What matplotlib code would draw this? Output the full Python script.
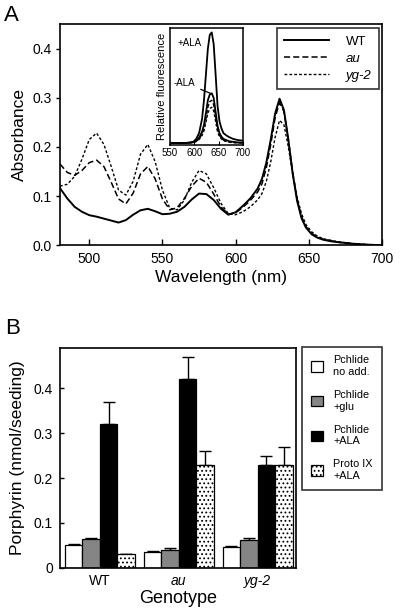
import matplotlib
matplotlib.use("Agg")
import matplotlib.pyplot as plt
from matplotlib.patches import Patch
from matplotlib.lines import Line2D

plt.rcParams["font.family"] = ["Liberation Sans", "DejaVu Sans"]
plt.rcParams["hatch.linewidth"] = 0.8

# ---- panel A: absorbance spectra ----
wavelength = [480, 485, 490, 495, 500, 505, 510, 515, 520, 525, 530, 535, 540, 545,
              550, 555, 560, 565, 570, 575, 580, 585, 590, 595, 600, 605, 610, 615,
              618, 621, 624, 627, 630, 633, 636, 639, 642, 645, 648, 652, 656, 660,
              665, 670, 680, 690, 700]
abs_wt = [0.116, 0.095, 0.078, 0.068, 0.061, 0.058, 0.054, 0.050, 0.046, 0.051, 0.062,
          0.071, 0.074, 0.069, 0.063, 0.064, 0.068, 0.078, 0.093, 0.105, 0.104, 0.092,
          0.074, 0.062, 0.067, 0.080, 0.095, 0.115, 0.135, 0.168, 0.215, 0.268, 0.298,
          0.275, 0.215, 0.145, 0.090, 0.055, 0.036, 0.022, 0.015, 0.011, 0.008, 0.006,
          0.003, 0.001, 0.000]
abs_au = [0.165, 0.148, 0.142, 0.152, 0.168, 0.173, 0.160, 0.128, 0.094, 0.084, 0.106,
          0.145, 0.160, 0.135, 0.094, 0.072, 0.076, 0.095, 0.120, 0.136, 0.128, 0.104,
          0.078, 0.063, 0.066, 0.077, 0.091, 0.108, 0.125, 0.158, 0.205, 0.260, 0.290,
          0.272, 0.215, 0.148, 0.094, 0.058, 0.038, 0.024, 0.016, 0.012, 0.009, 0.006,
          0.003, 0.001, 0.000]
abs_yg2 = [0.120, 0.124, 0.140, 0.175, 0.215, 0.228, 0.205, 0.160, 0.112, 0.102, 0.130,
           0.185, 0.205, 0.170, 0.112, 0.075, 0.072, 0.092, 0.128, 0.152, 0.145, 0.117,
           0.085, 0.064, 0.062, 0.068, 0.078, 0.092, 0.105, 0.130, 0.170, 0.220, 0.254,
           0.245, 0.200, 0.145, 0.098, 0.064, 0.042, 0.027, 0.018, 0.013, 0.010, 0.007,
           0.003, 0.001, 0.000]
a_yticks = [0.0, 0.1, 0.2, 0.3, 0.4]
a_yticklabels = ["0.0", "0.1", "0.2", "0.3", "0.4"]
a_xticks = [500, 550, 600, 650, 700]

# inset: fluorescence emission
fl_wavelength = [550, 560, 570, 580, 590, 598, 604, 610, 616, 620, 624, 628, 632, 636,
                 640, 644, 648, 652, 656, 660, 666, 672, 680, 690, 700]
fl_plus_ala = [0.015, 0.015, 0.015, 0.015, 0.018, 0.025, 0.05, 0.10, 0.22, 0.38, 0.60,
               0.82, 0.94, 0.96, 0.86, 0.60, 0.33, 0.20, 0.14, 0.10, 0.08, 0.065, 0.05,
               0.04, 0.035]
fl_minus_ala = [0.015, 0.015, 0.015, 0.015, 0.018, 0.022, 0.035, 0.06, 0.11, 0.17, 0.27,
                0.38, 0.43, 0.44, 0.40, 0.28, 0.16, 0.10, 0.07, 0.05, 0.04, 0.03, 0.025,
                0.02, 0.018]
fl_au = [0.015, 0.015, 0.015, 0.015, 0.017, 0.02, 0.03, 0.05, 0.09, 0.14, 0.22, 0.32,
         0.37, 0.38, 0.34, 0.24, 0.13, 0.08, 0.055, 0.04, 0.03, 0.025, 0.02, 0.018, 0.015]
fl_yg2 = [0.015, 0.015, 0.015, 0.015, 0.017, 0.02, 0.028, 0.045, 0.08, 0.12, 0.19, 0.27,
          0.31, 0.32, 0.29, 0.20, 0.11, 0.07, 0.05, 0.035, 0.028, 0.022, 0.018, 0.016,
          0.014]
fl_xticks = [550, 600, 650, 700]

# ---- panel B: porphyrin content ----
genotypes = ["WT", "au", "yg-2"]
treatments = ["Pchlide\nno add.", "Pchlide\n+glu", "Pchlide\n+ALA", "Proto IX\n+ALA"]
porphyrin = [
    [0.052, 0.036, 0.047],   # Pchlide no add.
    [0.064, 0.041, 0.062],   # Pchlide +glu
    [0.320, 0.420, 0.230],   # Pchlide +ALA
    [0.030, 0.230, 0.230],   # Proto IX +ALA
]
porphyrin_err = [
    [0.002, 0.002, 0.002],
    [0.003, 0.003, 0.005],
    [0.050, 0.050, 0.020],
    [0.000, 0.030, 0.040],
]
b_yticks = [0, 0.1, 0.2, 0.3, 0.4]
b_yticklabels = ["0", "0.1", "0.2", "0.3", "0.4"]

fig = plt.figure(figsize=(4.0, 6.16), dpi=100)

# ---------------- panel A ----------------
ax = fig.add_axes([0.15, 0.602, 0.805, 0.359])
ax.plot(wavelength, abs_wt, color="black", lw=1.4, ls="-", label="WT")
ax.plot(wavelength, abs_au, color="black", lw=1.1, ls=(0, (4, 2)), label="au")
ax.plot(wavelength, abs_yg2, color="black", lw=1.0, ls=(0, (2, 1.5)), label="yg-2")
ax.set_xlim(480, 700)
ax.set_ylim(0, 0.45)
ax.set_xticks(a_xticks)
ax.set_yticks(a_yticks)
ax.set_yticklabels(a_yticklabels)
ax.tick_params(axis="x", direction="in", length=4, width=1, labelsize=10, pad=5)
ax.tick_params(axis="y", direction="out", length=3, width=1, labelsize=10, pad=3)
ax.set_xlabel("Wavelength (nm)", fontsize=12.5, labelpad=3)
ax.set_ylabel("Absorbance", fontsize=12.5, labelpad=4)
for s in ax.spines.values():
    s.set_linewidth(1.2)
leg = ax.legend(handles=[
    Line2D([], [], color="black", lw=1.4, ls="-"),
    Line2D([], [], color="black", lw=1.1, ls=(0, (4, 2))),
    Line2D([], [], color="black", lw=1.0, ls=(0, (2, 1.5)))],
    labels=["WT", "au", "yg-2"], loc="upper right", bbox_to_anchor=(0.99, 0.98),
    borderaxespad=0, fontsize=9.5, frameon=True, fancybox=False, edgecolor="black",
    handlelength=3.4, handletextpad=1.3, labelspacing=0.35, borderpad=0.55)
leg.get_frame().set_linewidth(1.2)
for t in leg.get_texts()[1:]:
    t.set_style("italic")
fig.text(0.01, 0.975, "A", fontsize=16, va="center", ha="left")

# inset
ins = fig.add_axes([0.425, 0.765, 0.182, 0.19])
ins.plot(fl_wavelength, fl_plus_ala, color="black", lw=1.3)
ins.plot(fl_wavelength, fl_minus_ala, color="black", lw=1.3)
ins.plot(fl_wavelength, fl_au, color="black", lw=1.0, ls=(0, (3, 1.5)))
ins.plot(fl_wavelength, fl_yg2, color="black", lw=1.0, ls=(0, (2, 1.5)))
ins.set_xlim(550, 700)
ins.set_ylim(0, 1.0)
ins.set_xticks(fl_xticks)
ins.set_yticks([])
ins.tick_params(axis="x", direction="in", length=3, width=0.8, labelsize=7, pad=2)
ins.set_ylabel("Relative fluorescence", fontsize=8, labelpad=2)
for s in ins.spines.values():
    s.set_linewidth(1.1)
ins.text(590, 0.87, "+ALA", fontsize=7, ha="center", va="center")
ins.annotate("-ALA", xy=(633, 0.44), xytext=(580, 0.53), fontsize=7,
             ha="center", va="center",
             arrowprops=dict(arrowstyle="-", color="black", lw=0.9, shrinkA=2, shrinkB=0))

# ---------------- panel B ----------------
bx = fig.add_axes([0.15, 0.078, 0.59, 0.357])
width = 0.222
colors = ["white", "#858585", "black", "white"]
hatches = [None, None, None, "...."]
x = range(len(genotypes))
for i in range(len(treatments)):
    pos = [g + (i - 1.5) * width for g in x]
    bx.bar(pos, porphyrin[i], width=width, color=colors[i], edgecolor="black",
           linewidth=0.9, hatch=hatches[i], label=treatments[i], zorder=2)
    bx.errorbar(pos, porphyrin[i], yerr=[[0] * len(genotypes), porphyrin_err[i]],
                fmt="none", ecolor="black", elinewidth=1.0, capsize=4, capthick=1.0,
                zorder=1)
bx.set_xlim(-0.506, 2.486)
bx.set_ylim(0, 0.489)
bx.set_xticks(list(x))
bx.set_xticklabels(genotypes)
for t in bx.get_xticklabels()[1:]:
    t.set_style("italic")
bx.set_yticks(b_yticks)
bx.set_yticklabels(b_yticklabels)
bx.tick_params(axis="x", length=0, labelsize=10, pad=4)
bx.tick_params(axis="y", direction="in", length=3, width=1, labelsize=10, pad=5)
bx.set_xlabel("Genotype", fontsize=13, labelpad=2)
bx.set_ylabel("Porphyrin (nmol/seeding)", fontsize=12.5, labelpad=6)
for s in bx.spines.values():
    s.set_linewidth(1.2)

handles = [Patch(facecolor=colors[i], edgecolor="black", linewidth=0.9,
                 hatch=hatches[i]) for i in range(len(treatments))]
legb = fig.legend(handles=handles, labels=treatments, loc="upper left",
                  bbox_to_anchor=(0.755, 0.437), fontsize=7.8, frameon=True,
                  fancybox=False, edgecolor="black", handlelength=1.1,
                  handleheight=1.1, handletextpad=1.0, labelspacing=1.2,
                  borderpad=0.8, borderaxespad=0)
legb.get_frame().set_linewidth(1.2)
fig.text(0.012, 0.467, "B", fontsize=16, va="center", ha="left")

fig.savefig("out.png", dpi=100)
